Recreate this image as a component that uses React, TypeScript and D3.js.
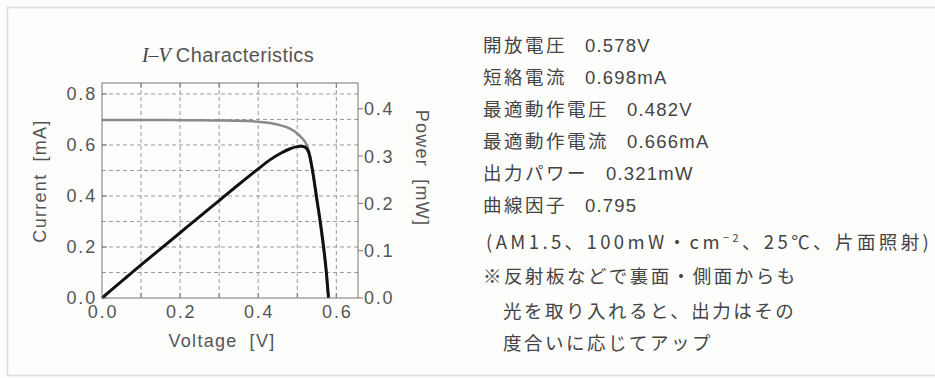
import React from "react";
import { scaleLinear, line, curveMonotoneX } from "d3";

// I-V curve
const voltage = [0, 0.05, 0.1, 0.15, 0.2, 0.25, 0.3, 0.35, 0.4, 0.43, 0.46, 0.48, 0.5, 0.51, 0.52, 0.53, 0.54, 0.55, 0.56, 0.57, 0.575, 0.58];
const current = [0.698, 0.698, 0.698, 0.698, 0.697, 0.697, 0.696, 0.695, 0.691, 0.686, 0.676, 0.665, 0.645, 0.63, 0.612, 0.575, 0.49, 0.38, 0.277, 0.158, 0.087, 0];
const power = [0, 0.035, 0.07, 0.104, 0.138, 0.172, 0.206, 0.24, 0.273, 0.292, 0.307, 0.315, 0.32, 0.321, 0.319, 0.306, 0.265, 0.21, 0.155, 0.09, 0.05, 0];

const xTicks = [0, 0.2, 0.4, 0.6];
const xGrid = [0.1, 0.2, 0.3, 0.4, 0.5, 0.6];
const yTicks = [0, 0.2, 0.4, 0.6, 0.8];
const yGrid = [0.1, 0.2, 0.3, 0.4, 0.5, 0.6, 0.7, 0.8];
const pTicks = [0, 0.1, 0.2, 0.3, 0.4];

const specLabels = ["開放電圧", "短絡電流", "最適動作電圧", "最適動作電流", "出力パワー", "曲線因子"];
const specValues = ["0.578V", "0.698mA", "0.482V", "0.666mA", "0.321mW", "0.795"];
const noteLines = ["※反射板などで裏面・側面からも", "光を取り入れると、出力はその", "度合いに応じてアップ"];

const W = 935;
const H = 378;
const plot = { left: 102, right: 358, top: 83, bottom: 298 };

const sans = "'Liberation Sans', Arial, sans-serif";
const jp = "'Noto Sans CJK JP', sans-serif";

export default function App() {
  const x = scaleLinear().domain([0, 0.6555]).range([plot.left, plot.right]);
  const yI = scaleLinear().domain([0, 0.843]).range([plot.bottom, plot.top]);
  const yP = scaleLinear().domain([0, 0.4545]).range([plot.bottom, plot.top]);

  const pts = voltage.map((v, i) => ({ v, i: current[i], p: power[i] }));
  const iLine = line<any>().x((d) => x(d.v)).y((d) => yI(d.i)).curve(curveMonotoneX);
  const pLine = line<any>().x((d) => x(d.v)).y((d) => yP(d.p)).curve(curveMonotoneX);

  const tickStyle = { fontFamily: sans, fontSize: 18, fill: "#555", letterSpacing: 1.8 };
  const labelStyle = { ...tickStyle, letterSpacing: 1.3 };

  return (
    <svg width={W} height={H} style={{ position: "absolute", left: 0, top: 0, display: "block" }}>
      <rect x={0} y={0} width={W} height={H} fill="#fdfdfc" />
      {/* card border */}
      <path d={`M${W},7.5 H7.5 V375.5 H${W}`} fill="none" stroke="#d9e0e3" strokeWidth={1.5} />

      {/* title */}
      <text x={228} y={62} textAnchor="middle" fill="#444" style={{ fontSize: 20 }}>
        <tspan fontFamily="'Liberation Serif', serif" fontStyle="italic">I–V</tspan>
        <tspan fontFamily={sans} dx={5} fill="#555" style={{ letterSpacing: 0.4 }}>Characteristics</tspan>
      </text>

      {/* grid */}
      <g stroke="#9a9a9a" strokeWidth={1} strokeDasharray="4,3">
        {xGrid.map((d) => (
          <line key={"gx" + d} x1={x(d)} x2={x(d)} y1={plot.top} y2={plot.bottom} />
        ))}
        {yGrid.map((d) => (
          <line key={"gy" + d} x1={plot.left} x2={plot.right} y1={yI(d)} y2={yI(d)} />
        ))}
      </g>
      {/* inner ticks */}
      <g stroke="#777" strokeWidth={1}>
        {xGrid.map((d) => (
          <g key={"tx" + d}>
            <line x1={x(d)} x2={x(d)} y1={plot.bottom} y2={plot.bottom - 5} />
            <line x1={x(d)} x2={x(d)} y1={plot.top} y2={plot.top + 5} />
          </g>
        ))}
        {yTicks.map((d) => (
          <line key={"ty" + d} x1={plot.left} x2={plot.left + 5} y1={yI(d)} y2={yI(d)} />
        ))}
        {pTicks.map((d) => (
          <line key={"tp" + d} x1={plot.right} x2={plot.right + 5} y1={yP(d)} y2={yP(d)} />
        ))}
      </g>

      {/* curves */}
      <path d={iLine(pts) || ""} fill="none" stroke="#8a8a8a" strokeWidth={2.5} />
      <path d={pLine(pts) || ""} fill="none" stroke="#111" strokeWidth={3} strokeLinejoin="round" />

      {/* frame */}
      <rect x={plot.left} y={plot.top} width={plot.right - plot.left} height={plot.bottom - plot.top} fill="none" stroke="#777" strokeWidth={1} />

      {/* axis labels */}
      {yTicks.map((d) => (
        <text key={"ly" + d} x={97} y={yI(d)} dy="0.36em" textAnchor="end" style={tickStyle}>
          {d.toFixed(1)}
        </text>
      ))}
      {pTicks.map((d) => (
        <text key={"lp" + d} x={364} y={yP(d)} dy="0.36em" textAnchor="start" style={tickStyle}>
          {d.toFixed(1)}
        </text>
      ))}
      {xTicks.map((d) => (
        <text key={"lx" + d} x={x(d) + 1} y={318} textAnchor="middle" style={tickStyle}>
          {d.toFixed(1)}
        </text>
      ))}
      <text x={222} y={347} textAnchor="middle" style={labelStyle}>
        Voltage<tspan dx={12}>[V]</tspan>
      </text>
      <text transform="translate(46,181) rotate(-90)" textAnchor="middle" style={labelStyle}>
        Current<tspan dx={12}>[mA]</tspan>
      </text>
      <text transform="translate(416,168) rotate(90)" textAnchor="middle" style={labelStyle}>
        Power<tspan dx={12}>[mW]</tspan>
      </text>

      {/* spec list */}
      <g style={{ fontFamily: jp, fontSize: 18.5, fill: "#444" }}>
        {specLabels.map((s, i) => (
          <text key={s} x={483} y={52 + i * 32} style={{ letterSpacing: 2.5 }}>
            {s}
            <tspan dx={18} fontFamily={sans} style={{ letterSpacing: 1.2 }}>
              {specValues[i]}
            </tspan>
          </text>
        ))}
        <text x={486} y={249} style={{ letterSpacing: 3.4 }}>
          (AM1.5、100mW・cm<tspan dy={-7} fontSize={11}>−2</tspan>
          <tspan dy={7}>、25℃、片面照射)</tspan>
        </text>
        {noteLines.map((s, i) => (
          <text key={s} x={i === 0 ? 483 : 503} y={[283, 318, 350][i]} style={{ letterSpacing: 2.5 }}>
            {s}
          </text>
        ))}
      </g>
    </svg>
  );
}
